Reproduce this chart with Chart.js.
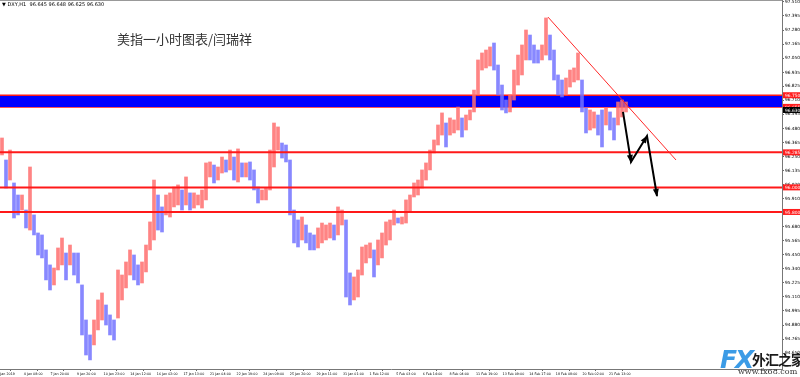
<!DOCTYPE html>
<html lang="zh">
<head>
<meta charset="UTF-8">
<title>DXY H1</title>
<script src="https://cdn.jsdelivr.net/npm/chart.js"></script>
<style>
  html, body { margin: 0; padding: 0; background: #fff; }
  .wrap { position: relative; width: 800px; height: 377px; overflow: hidden; }
  #c { position: absolute; left: 0; top: 0; }
  .topline { position: absolute; left: 0; top: 0; width: 782px; height: 1px; background: #999; }
  .hdr { position: absolute; left: 2px; top: 1px; font: 5px "DejaVu Sans"; color: #000; white-space: nowrap; }
  .title { position: absolute; left: 117px; top: 29px; font: 13px "Noto Sans CJK SC"; color: #333; white-space: nowrap; }
  .wm-fx { position: absolute; left: 720px; top: 345px; font: italic bold 25px "DejaVu Sans"; color: #3b9be6; letter-spacing: -2px; }
  .wm-cn { position: absolute; left: 752px; top: 349px; font: bold 14px "Noto Sans CJK SC"; color: #1a1a1a; white-space: nowrap; letter-spacing: -1px; }
  .wm-url { position: absolute; left: 738px; top: 367px; font: 8px "DejaVu Serif"; color: #333; white-space: nowrap; }
</style>
</head>
<body>
<div class="wrap">
  <canvas id="c" width="800" height="377"></canvas>
  <div class="topline"></div>
  <div class="hdr">▼ DXY,H1 &nbsp;96.645 96.648 96.625 96.630</div>
  <div class="title">美指一小时图表/闫瑞祥</div>
  <div class="wm-fx">FX</div>
  <div class="wm-cn">外汇之家</div>
  <div class="wm-url">www.fx68.com</div>
</div>
<script>
// time axis labels
const xLabels = ['2 Jan 2019', '4 Jan 08:00', '7 Jan 20:00', '9 Jan 20:00', '10 Jan 23:00', '14 Jan 12:00',
  '16 Jan 02:00', '17 Jan 13:00', '21 Jan 04:00', '22 Jan 19:00', '24 Jan 09:00', '25 Jan 20:00',
  '29 Jan 11:00', '31 Jan 01:00', '1 Feb 12:00', '5 Feb 03:00', '6 Feb 14:00', '8 Feb 04:00',
  '11 Feb 19:00', '13 Feb 09:00', '14 Feb 17:00', '18 Feb 08:00', '20 Feb 02:00', '21 Feb 13:00'];

// price axis labels
const yTickLabels = ['97.510', '97.395', '97.280', '97.165', '97.050', '96.935', '96.825', '96.710',
  '96.595', '96.480', '96.365', '96.250', '96.135', '96.020', '95.910', '95.795', '95.680', '95.565',
  '95.450', '95.340', '95.225', '95.110', '94.995', '94.880', '94.765', '94.650'];

// bar highs / lows (one bar per few hours)
const highs = [96.402, 96.223, 96.304, 96.036, 95.938, 95.938, 95.816, 96.166, 95.776, 95.629,
  95.613, 95.491, 95.369, 95.344, 95.507, 95.588, 95.466, 95.531, 95.466, 95.466,
  95.206, 94.921, 94.799, 94.921, 95.084, 95.141, 95.043, 94.962, 94.921, 95.328,
  95.287, 95.393, 95.491, 95.450, 95.369, 95.393, 95.531, 95.719, 96.060, 95.938,
  95.841, 95.938, 95.955, 96.003, 96.020, 95.979, 96.085, 95.955, 95.955, 95.938,
  95.979, 96.199, 96.207, 96.182, 96.166, 96.247, 96.223, 96.304, 96.247, 96.313,
  96.199, 96.199, 96.207, 96.142, 96.003, 95.979, 95.995, 96.304, 96.524, 96.492,
  96.361, 96.345, 96.223, 95.816, 95.735, 95.759, 95.694, 95.629, 95.613, 95.670,
  95.710, 95.694, 95.710, 95.694, 95.841, 95.816, 95.735, 95.304, 95.271, 95.328,
  95.515, 95.531, 95.548, 95.491, 95.572, 95.629, 95.719, 95.735, 95.816, 95.751,
  95.759, 95.898, 95.938, 96.036, 96.060, 96.142, 96.199, 96.304, 96.386, 96.508,
  96.606, 96.524, 96.565, 96.549, 96.654, 96.565, 96.589, 96.630, 96.792, 97.037,
  97.094, 97.118, 97.143, 97.175, 96.996, 96.833, 96.711, 96.752, 96.955, 97.077,
  97.159, 97.281, 97.240, 97.159, 97.118, 97.159, 97.379, 97.240, 97.118, 96.915,
  96.874, 96.890, 96.955, 96.972, 97.094, 96.874, 96.646, 96.630, 96.614, 96.589,
  96.630, 96.646, 96.614, 96.565, 96.695, 96.711, 96.695];
const lows = [96.264, 95.995, 96.060, 95.751, 95.776, 95.816, 95.670, 95.653, 95.613, 95.450,
  95.426, 95.247, 95.165, 95.206, 95.328, 95.369, 95.247, 95.369, 95.287, 95.222,
  94.799, 94.636, 94.596, 94.718, 94.840, 94.921, 94.880, 94.799, 94.758, 94.937,
  95.084, 95.182, 95.287, 95.247, 95.206, 95.222, 95.312, 95.491, 95.572, 95.653,
  95.637, 95.776, 95.759, 95.841, 95.857, 95.816, 95.857, 95.816, 95.832, 95.857,
  95.832, 95.898, 96.085, 96.036, 96.060, 96.117, 96.125, 96.142, 96.060, 96.044,
  96.085, 96.085, 96.060, 95.979, 95.873, 95.898, 95.898, 95.979, 96.166, 96.304,
  96.239, 96.207, 95.776, 95.548, 95.515, 95.572, 95.548, 95.491, 95.491, 95.507,
  95.548, 95.572, 95.588, 95.572, 95.613, 95.694, 95.108, 95.043, 95.084, 95.108,
  95.287, 95.385, 95.426, 95.271, 95.369, 95.426, 95.531, 95.572, 95.694, 95.710,
  95.702, 95.710, 95.800, 95.922, 95.938, 95.995, 96.060, 96.142, 96.280, 96.345,
  96.426, 96.329, 96.426, 96.443, 96.467, 96.410, 96.467, 96.549, 96.614, 96.752,
  96.955, 96.972, 96.988, 96.955, 96.752, 96.630, 96.606, 96.614, 96.711, 96.833,
  96.915, 97.037, 97.037, 97.012, 97.012, 97.037, 97.077, 97.037, 96.874, 96.752,
  96.736, 96.752, 96.817, 96.858, 96.874, 96.614, 96.443, 96.467, 96.483, 96.426,
  96.329, 96.508, 96.467, 96.386, 96.508, 96.573, 96.614];

// drawn objects
const bandTop = 96.750;
const bandBottom = 96.655;
const levelLines = [96.285, 96.000, 95.800];
const lastPrice = 96.630;
const trendX = [136.5, 168.5];
const trendY = [97.386, 96.223];
const arrowX = [155.25, 157.25, 161.25, 163.75];
const arrowY = [96.614, 96.207, 96.418, 95.930];

const X_MIN = -0.5, X_MAX = 195;
const LBL_STEP = 6.65, LBL_START = -1.2;

const upCol = 'rgba(255,110,110,0.85)';
const dnCol = 'rgba(115,115,255,0.85)';
const barColors = highs.map((h, i) => {
  const m = (h + lows[i]) / 2;
  const p = i ? (highs[i - 1] + lows[i - 1]) / 2 : m;
  return m >= p ? upCol : dnCol;
});

const full = v => [{ x: X_MIN, y: v }, { x: X_MAX, y: v }];
const redLine = 'rgb(255,25,25)';

const datasets = [
  {
    type: 'line', data: full(bandTop), borderColor: redLine, borderWidth: 1.5,
    pointRadius: 0, fill: '+1', backgroundColor: '#0000ff', order: 5
  },
  {
    type: 'line', data: full(bandBottom), borderColor: redLine, borderWidth: 1.5,
    pointRadius: 0, fill: false, order: 5
  },
  {
    type: 'bar',
    data: highs.map((h, i) => ({ x: i, y: [lows[i], h] })),
    backgroundColor: barColors, barThickness: 3, borderWidth: 0, order: 3
  }
];
levelLines.forEach(v => datasets.push({
  type: 'line', data: full(v), borderColor: redLine, borderWidth: 2, pointRadius: 0, fill: false, order: 1
}));
datasets.push({
  type: 'line', data: trendX.map((x, i) => ({ x, y: trendY[i] })),
  borderColor: 'rgb(255,40,40)', borderWidth: 1, pointRadius: 0, fill: false, order: 1
});
const ARROW_IDX = datasets.length;
datasets.push({
  type: 'line', data: arrowX.map((x, i) => ({ x, y: arrowY[i] })),
  borderColor: '#000', borderWidth: 2, pointRadius: 0, fill: false, order: 0
});

const overlay = {
  id: 'overlay',
  afterDatasetsDraw(chart) {
    const ctx = chart.ctx;
    const pts = chart.getDatasetMeta(ARROW_IDX).data;
    ctx.save();
    ctx.fillStyle = '#000';
    for (let i = 1; i < pts.length; i++) {
      const a = pts[i - 1], b = pts[i];
      const ang = Math.atan2(b.y - a.y, b.x - a.x);
      const L = 7, W = 3;
      ctx.beginPath();
      ctx.moveTo(b.x + Math.cos(ang) * 1, b.y + Math.sin(ang) * 1);
      ctx.lineTo(b.x - Math.cos(ang) * L + Math.sin(ang) * W, b.y - Math.sin(ang) * L - Math.cos(ang) * W);
      ctx.lineTo(b.x - Math.cos(ang) * L - Math.sin(ang) * W, b.y - Math.sin(ang) * L + Math.cos(ang) * W);
      ctx.closePath();
      ctx.fill();
    }
    ctx.restore();
  },
  afterDraw(chart) {
    const ctx = chart.ctx, y = chart.scales.y, area = chart.chartArea;
    ctx.save();
    ctx.font = '4.4px "DejaVu Sans"';
    ctx.textBaseline = 'middle';
    const tag = (v, bg) => {
      const py = y.getPixelForValue(v);
      ctx.fillStyle = bg;
      ctx.fillRect(area.right + 1, py - 3, 800 - area.right - 1, 6);
      ctx.fillStyle = '#fff';
      ctx.fillText(v.toFixed(3), area.right + 3, py + 0.5);
    };
    [bandTop, bandBottom].concat(levelLines).forEach(v => tag(v, 'rgb(255,30,30)'));
    tag(lastPrice, '#000');
    ctx.restore();
  }
};

new Chart(document.getElementById('c'), {
  type: 'bar',
  data: { datasets },
  options: {
    responsive: false,
    animation: false,
    devicePixelRatio: 1,
    layout: { padding: 0 },
    plugins: { legend: { display: false }, tooltip: { enabled: false } },
    scales: {
      x: {
        type: 'linear', min: X_MIN, max: X_MAX, offset: false,
        afterBuildTicks: s => { s.ticks = xLabels.map((t, k) => ({ value: LBL_START + LBL_STEP * k })); },
        afterFit: s => { s.height = 8; s.paddingLeft = 0; s.paddingRight = 0; },
        ticks: {
          autoSkip: false, maxRotation: 0, align: 'start', padding: 1,
          font: { size: 3.3, family: 'DejaVu Sans' }, color: '#000',
          callback: (v, i) => xLabels[i]
        },
        grid: { drawOnChartArea: false, tickLength: 2, color: '#666' },
        border: { display: true, color: '#777', width: 1 }
      },
      y: {
        position: 'right', min: 94.522, max: 97.525,
        afterBuildTicks: s => { s.ticks = yTickLabels.map(t => ({ value: parseFloat(t) })); },
        afterFit: s => { s.width = 18; s.paddingTop = 0; s.paddingBottom = 0; },
        ticks: {
          autoSkip: false, padding: 1,
          font: { size: 4.3, family: 'DejaVu Sans' }, color: '#000',
          callback: (v, i) => yTickLabels[i]
        },
        grid: { drawOnChartArea: false, tickLength: 2, color: '#666' },
        border: { display: true, color: '#777', width: 1 }
      }
    }
  },
  plugins: [overlay]
});
</script>
</body>
</html>
